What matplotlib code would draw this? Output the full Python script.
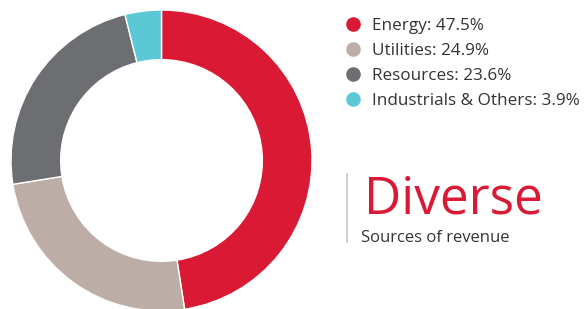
import matplotlib
matplotlib.use("Agg")
import matplotlib.pyplot as plt
from matplotlib.lines import Line2D

# revenue mix
sectors = ["Energy", "Utilities", "Resources", "Industrials & Others"]
shares = [47.5, 24.9, 23.6, 3.9]
colors = ["#DA1A35", "#BCADA6", "#6D6E71", "#5BC8D6"]

plt.rcParams['font.family'] = ['Open Sans', 'DejaVu Sans']

fig = plt.figure(figsize=(5.84, 3.09), dpi=100)

# donut
ax = fig.add_axes([11 / 584, -2 / 309, 301 / 584, 301 / 309])
ax.pie(shares, colors=colors, startangle=90, counterclock=False,
       radius=1.0, wedgeprops=dict(width=0.33, edgecolor="white", linewidth=1.0))
ax.set_xlim(-1, 1)
ax.set_ylim(-1, 1)
ax.set_aspect("equal")
ax.axis("off")

# legend
handles = [Line2D([], [], marker="o", linestyle="none", markersize=10.5,
                  markerfacecolor=c, markeredgecolor="none") for c in colors]
labels = [f"{s}: {v}%" for s, v in zip(sectors, shares)]
leg = fig.legend(handles, labels, loc="upper left", bbox_to_anchor=(343 / 584, 1 - 18 / 309),
                 frameon=False, fontsize=12.3, labelspacing=0.52, handletextpad=0.47,
                 handlelength=1.2, borderaxespad=0, borderpad=0)
for t in leg.get_texts():
    t.set_color("#333333")

# annotation
fig.add_artist(Line2D([347 / 584, 347 / 584], [1 - 174 / 309, 1 - 242 / 309],
                      color="#CFC5C0", linewidth=1.2))
fig.text(364 / 584, 1 - 213 / 309, "Diverse", color="#DA1A35", fontsize=37,
         va="baseline", ha="left")
fig.text(361 / 584, 1 - 242 / 309, "Sources of revenue", color="#333333", fontsize=12,
         va="baseline", ha="left")

fig.savefig("out.png", dpi=100)
